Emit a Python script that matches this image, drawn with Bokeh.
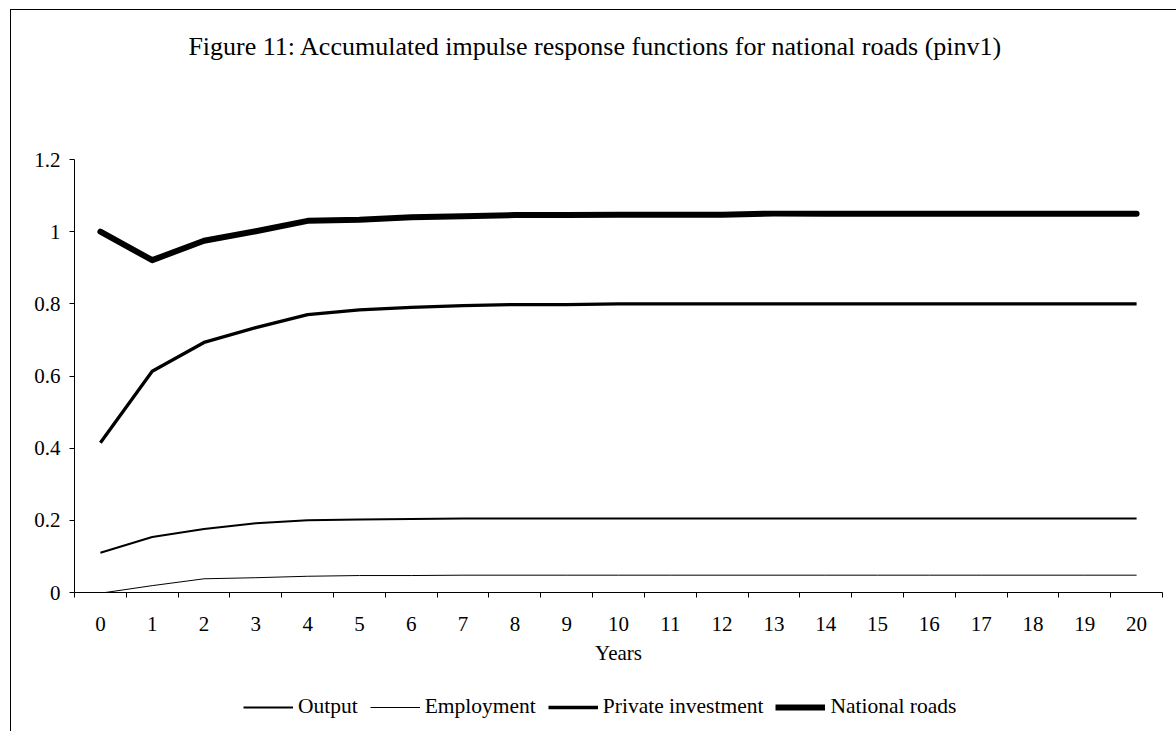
from bokeh.plotting import figure
from bokeh.layouts import column
from bokeh.models import (FixedTicker, CustomJSTickFormatter, Legend, LegendItem,
                          Label, Range1d, InlineStyleSheet)
from bokeh.embed import file_html
from bokeh.resources import INLINE

# Accumulated responses, years 0..20
years = list(range(21))
output = [0.110, 0.154, 0.176, 0.192, 0.200, 0.202, 0.204, 0.205, 0.205, 0.205,
          0.205, 0.205, 0.205, 0.205, 0.205, 0.205, 0.205, 0.205, 0.205, 0.205, 0.205]
employment = [-0.002, 0.019, 0.038, 0.041, 0.045, 0.047, 0.047, 0.048, 0.048, 0.048,
              0.048, 0.048, 0.048, 0.048, 0.048, 0.048, 0.048, 0.048, 0.048, 0.048, 0.048]
private_investment = [0.415, 0.613, 0.693, 0.734, 0.770, 0.783, 0.790, 0.795, 0.798, 0.798,
                      0.800, 0.800, 0.800, 0.800, 0.800, 0.800, 0.800, 0.800, 0.800, 0.800, 0.800]
national_roads = [1.000, 0.921, 0.975, 1.001, 1.030, 1.033, 1.040, 1.043, 1.046, 1.046,
                  1.047, 1.047, 1.047, 1.050, 1.050, 1.050, 1.050, 1.050, 1.050, 1.050, 1.050]
y_ticks = [0, 0.2, 0.4, 0.6, 0.8, 1.0, 1.2]
series_names = ["Output", "Employment", "Private investment", "National roads"]
series_widths = [2, 1, 3.3, 6]
series_values = [output, employment, private_investment, national_roads]

FONT = "Liberation Serif"
TXT = "21px"
W = 1176
LEFT, RIGHT = 74, 14          # plot frame borders, shared by all strips in the column
TOP_H, MAIN_H, LEG_H = 149, 531, 51


def strip(height, x_range, y_range):
    fig = figure(width=W, height=height, output_backend="svg", toolbar_location=None,
                 x_range=x_range, y_range=y_range, x_axis_type=None, y_axis_type=None,
                 min_border=0)
    fig.grid.visible = False
    fig.outline_line_color = None
    fig.background_fill_color = None
    fig.border_fill_color = None
    return fig


# --- title strip (pixel coordinates, y downwards)
pt = strip(TOP_H, Range1d(LEFT, W - RIGHT), Range1d(TOP_H, 0))
pt.add_layout(Label(x=595, y=46,
                    text="Figure 11: Accumulated impulse response functions for national roads (pinv1)",
                    text_align="center", text_baseline="alphabetic",
                    text_font=FONT, text_font_size="26px", text_color="black"))

# --- main chart
p = figure(width=W, height=MAIN_H, output_backend="svg", toolbar_location=None,
           x_range=Range1d(-0.5, 20.5), y_range=Range1d(0, 1.2),
           min_border_left=LEFT, min_border_right=RIGHT, min_border_top=10,
           min_border_bottom=88)
p.outline_line_color = None
p.xgrid.visible = False
p.ygrid.visible = False
p.background_fill_color = None
p.border_fill_color = None

# x axis: category labels centred, tick marks between categories
xa = p.xaxis[0]
xa.ticker = FixedTicker(ticks=years, minor_ticks=[i - 0.5 for i in range(22)])
xa.major_tick_in = 0
xa.major_tick_out = 0
xa.minor_tick_in = 0
xa.minor_tick_out = 5
xa.minor_tick_line_color = "black"
xa.axis_line_color = "black"
xa.major_label_text_font = FONT
xa.major_label_text_font_size = TXT
xa.major_label_text_color = "black"
xa.major_label_standoff = 19
xa.axis_label = "Years"
xa.axis_label_text_font = FONT
xa.axis_label_text_font_size = TXT
xa.axis_label_text_font_style = "normal"
xa.axis_label_text_color = "black"
xa.axis_label_standoff = 7

ya = p.yaxis[0]
ya.ticker = FixedTicker(ticks=y_ticks, minor_ticks=[])
ya.formatter = CustomJSTickFormatter(code="return tick.toFixed(1).replace(/\\.0$/, '');")
ya.major_tick_in = 0
ya.major_tick_out = 5
ya.axis_line_color = "black"
ya.major_tick_line_color = "black"
ya.major_label_text_font = FONT
ya.major_label_text_font_size = TXT
ya.major_label_text_color = "black"
ya.major_label_standoff = 9

for vals, lw in zip(series_values, series_widths):
    p.line(years, vals, line_color="black", line_width=lw, line_join="round",
           line_cap="round" if lw >= 5 else "butt")

# --- legend strip: same series, ranges kept away from the data so only keys show
pl = strip(LEG_H, Range1d(100, 101), Range1d(100, 101))
items = []
for name, vals, lw in zip(series_names, series_values, series_widths):
    r = pl.line(years, vals, line_color="black", line_width=lw)
    items.append(LegendItem(label=name, renderers=[r]))
pl.add_layout(Legend(items=items, orientation="horizontal", location=(243 - LEFT, 12),
                     label_text_font=FONT, label_text_font_size="21.5px",
                     label_text_color="black",
                     glyph_width=50, glyph_height=20, label_standoff=5, spacing=12,
                     border_line_color=None, background_fill_alpha=0,
                     margin=0, padding=0))

layout = column(pt, p, pl, spacing=0)
# outer chart border (top and left edges)
layout.stylesheets = [InlineStyleSheet(css="""
:host { position: relative; background: #fff; overflow: hidden; }
:host::after {
  content: ""; position: absolute; left: 10px; top: 9px; right: -50px; bottom: -50px;
  border-left: 1px solid #000; border-top: 1px solid #000; pointer-events: none;
}
""")]

open("out.html", "w").write(file_html(layout, INLINE))
